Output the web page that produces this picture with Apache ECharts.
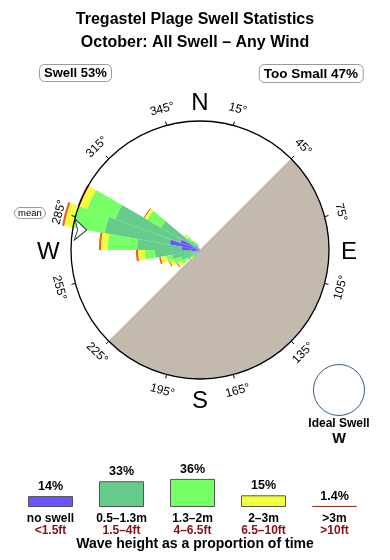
<!DOCTYPE html>
<html><head><meta charset="utf-8">
<script src="https://cdn.jsdelivr.net/npm/echarts@6/dist/echarts.min.js"></script>
<style>html,body{margin:0;padding:0;background:#fff}#c{width:390px;height:560px}</style>
</head><body><div id="c"></div>
<script>
const FONT = "'Liberation Sans', Arial, Helvetica, sans-serif";

// ---- direction bins (10° wide, centred on bearing) ----
const angleCats = ['5','15','25','35','45','55','65','75','85','95','105','115','125','135','145','155','165','175',
  '185','195','205','215','225','235','245','255','265','275','285','295','305','315','325','335','345','355'];
const bins      = [225, 235, 245, 255, 265, 275, 285, 295, 305, 315, 325, 335];
// stacked segment lengths (rim of compass circle = 100)
const noSwell   = [0,   1.6, 2.3, 3.9, 6.2, 14.0, 24.0, 16.3, 3.9, 2.3, 1.6, 0];
const h05to13   = [6.2, 10.0, 13.2, 17.8, 28.7, 34.9, 51.2, 53.5, 31.0, 7.0, 3.9, 3.9];
const h13to2    = [2.3, 5.4, 6.2, 4.7, 7.8, 22.5, 24.8, 23.3, 12.4, 3.9, 2.3, 1.6];
const h2to3     = [1.6, 3.1, 3.1, 4.6, 5.4, 5.4, 7.0, 6.2, 2.3, 1.9, 1.6, 0.8];
const h3plus    = [0.4, 0.8, 0.8, 1.2, 1.6, 1.6, 1.6, 1.6, 0.8, 0.4, 0, 0];
const meanDirection = 280;
const shoreSector = [50, 50]; // shadow half (45°→225°) and open half

const tickAngles = [15, 45, 75, 105, 135, 165, 195, 225, 255, 285, 315, 345];
const tickLabels = ['15°','45°','75°','105°','135°','165°','195°','225°','255°','285°','315°','345°'];
const compassAngles = [0, 90, 180, 270];
const compassLabels = ['N', 'E', 'S', 'W'];

// ---- legend ----
const legendCats   = ['no swell', '0.5–1.3m', '1.3–2m', '2–3m', '>3m'];
const legendFeet   = ['<1.5ft', '1.5–4ft', '4–6.5ft', '6.5–10ft', '>10ft'];
const legendPct    = [14, 33, 36, 15, 1.4];

// ---- styles ----
const bandColors   = ['#6a55ff', '#66cc8c', '#77ff66', '#f2ff3c', '#ee5a22'];
const legendColors = ['#6a55ff', '#66cc8c', '#77ff66', '#f2ff3c', '#993322'];
const compassRadius = [115, 115.5, 116, 117.5];
const meanArrowRotate = -92;

function bandData(arr) {
  return angleCats.map(c => { const i = bins.indexOf(+c); return i < 0 ? 0 : arr[i]; });
}
const bands = [noSwell, h05to13, h13to2, h2to3, h3plus];
const bandNames = ['no swell', '0.5-1.3m', '1.3-2m', '2-3m', '>3m'];

const chart = echarts.init(document.getElementById('c'), null, {renderer: 'canvas'});

const roseSeries = bands.map((arr, k) => ({
  type: 'bar', name: bandNames[k], coordinateSystem: 'polar', polarIndex: 0,
  stack: 'rose', barWidth: '100%', barCategoryGap: '0%', barGap: '0%', data: bandData(arr), silent: true, z: 3,
  itemStyle: {color: bandColors[k]}
}));

const plainTitle = (text, extra) => Object.assign({
  text, padding: 0, textStyle: {fontFamily: FONT, fontWeight: 'bold', fontSize: 16, color: '#000'}
}, extra);

const option = {
  animation: false,
  backgroundColor: '#fff',
  title: [
    plainTitle('Tregastel Plage Swell Statistics', {left: 'center', top: 12}),
    plainTitle('October: All Swell – Any Wind', {left: 'center', top: 35}),
    {text: 'Swell 53%', left: 39, top: 64, padding: [3, 5, 2, 5], borderColor: '#999', borderWidth: 1, borderRadius: 5,
     textStyle: {fontFamily: FONT, fontWeight: 'bold', fontSize: 13, color: '#000'}},
    {text: 'Too Small 47%', right: 27, top: 64, padding: [3, 5, 2, 5], borderColor: '#999', borderWidth: 1, borderRadius: 5,
     textStyle: {fontFamily: FONT, fontWeight: 'bold', fontSize: 13.5, color: '#000'}},
    {text: 'mean', left: 14, top: 207, padding: [1, 4, 1, 4], borderColor: '#999', borderWidth: 1, borderRadius: 6,
     textStyle: {fontFamily: FONT, fontWeight: 'normal', fontSize: 9.5, color: '#000'}},
    plainTitle('Ideal Swell', {left: 339, textAlign: 'center', top: 418, textStyle: {fontFamily: FONT, fontWeight: 'bold', fontSize: 12, color: '#000'}}),
    plainTitle('W', {left: 339, textAlign: 'center', top: 431, textStyle: {fontFamily: FONT, fontWeight: 'bold', fontSize: 14.5, color: '#000'}}),
    plainTitle('Wave height as a proportion of time', {left: 'center', top: 537, textStyle: {fontFamily: FONT, fontWeight: 'bold', fontSize: 14, color: '#000'}})
  ],
  polar: [
    {center: [200, 250], radius: 154.8},
    {center: [200, 250], radius: 129},
    {center: [339, 390], radius: 25.5}
  ],
  angleAxis: [
    {polarIndex: 0, type: 'category', data: angleCats, startAngle: 90, clockwise: true, boundaryGap: true, show: false},
    {polarIndex: 1, type: 'value', min: -15, max: 345, interval: 30, startAngle: 105, clockwise: true, z: 10,
     axisLine: {show: true, lineStyle: {color: '#000', width: 1.3}},
     axisTick: {show: true, length: 4, lineStyle: {color: '#000', width: 1}},
     axisLabel: {show: false}, splitLine: {show: false}},
    {polarIndex: 2, type: 'value', min: 0, max: 360, startAngle: 90,
     axisLine: {show: true, lineStyle: {color: '#3d5f85', width: 1}},
     axisTick: {show: false}, axisLabel: {show: false}, splitLine: {show: false}}
  ],
  radiusAxis: [
    {polarIndex: 0, type: 'value', min: 0, max: 120, show: false},
    {polarIndex: 1, type: 'value', min: 0, max: 100, show: false},
    {polarIndex: 2, type: 'value', min: 0, max: 1, show: false}
  ],
  grid: [{left: 15, width: 355, top: 429, height: 78}],
  xAxis: [{gridIndex: 0, type: 'category', data: legendCats,
    axisLine: {show: false}, axisTick: {show: false},
    axisLabel: {margin: 5, interval: 0,
      formatter: (v, i) => '{a|' + v + '}\n{b|' + legendFeet[i] + '}',
      rich: {
        a: {fontFamily: FONT, fontWeight: 'bold', fontSize: 12, color: '#000', lineHeight: 12.5},
        b: {fontFamily: FONT, fontWeight: 'bold', fontSize: 12, color: '#8a1010', lineHeight: 12.5}
      }}}],
  yAxis: [{gridIndex: 0, type: 'value', min: 0, max: 100, show: false}],
  series: [
    {type: 'pie', center: [200, 250], radius: 129, startAngle: 45, clockwise: true, silent: true, z: 1,
     label: {show: false}, labelLine: {show: false}, emphasis: {disabled: true},
     data: [
       {value: shoreSector[0], itemStyle: {color: '#c4b9ad', borderColor: '#a9c6e4', borderWidth: 1}},
       {value: shoreSector[1], itemStyle: {color: 'rgba(0,0,0,0)', borderWidth: 0}}
     ]},
    ...roseSeries,
    {type: 'scatter', coordinateSystem: 'polar', polarIndex: 1, silent: true, z: 12,
     data: [[89.2, meanDirection]], symbol: 'arrow', symbolSize: [15.75, 12], symbolRotate: meanArrowRotate,
     itemStyle: {color: '#fff', borderColor: '#2e3b4e', borderWidth: 1, opacity: 1}},
    {type: 'custom', coordinateSystem: 'polar', polarIndex: 1, silent: true, z: 12,
     data: tickAngles.map(a => [113, a]),
     renderItem(params, api) {
       const a = api.value(1);
       const p = api.coord([api.value(0), a]);
       let rot = (a > 90 && a < 270) ? a - 180 : (a >= 270 ? a - 360 : a);
       return {type: 'text', x: p[0], y: p[1], rotation: -rot * Math.PI / 180,
         style: {text: tickLabels[params.dataIndex], font: '12px ' + FONT, fill: '#000', align: 'center', verticalAlign: 'middle'}};
     }},
    {type: 'custom', coordinateSystem: 'polar', polarIndex: 1, silent: true, z: 12,
     data: compassAngles.map((a, i) => [compassRadius[i], a]),
     renderItem(params, api) {
       const p = api.coord([api.value(0), api.value(1)]);
       return {type: 'text', x: p[0], y: p[1] + 2,
         style: {text: compassLabels[params.dataIndex], font: '24px ' + FONT, fill: '#000', align: 'center', verticalAlign: 'middle'}};
     }},
    {type: 'bar', xAxisIndex: 0, yAxisIndex: 0, barWidth: 45, silent: true,
     data: legendPct.map((v, i) => ({value: v, itemStyle: {color: legendColors[i], borderColor: i === 4 ? legendColors[i] : '#555', borderWidth: 1}})),
     label: {show: true, position: 'top', distance: 3, formatter: p => p.value + '%',
       fontFamily: FONT, fontWeight: 'bold', fontSize: 12.5, color: '#000'}}
  ]
};
chart.setOption(option);
</script>
</body></html>
